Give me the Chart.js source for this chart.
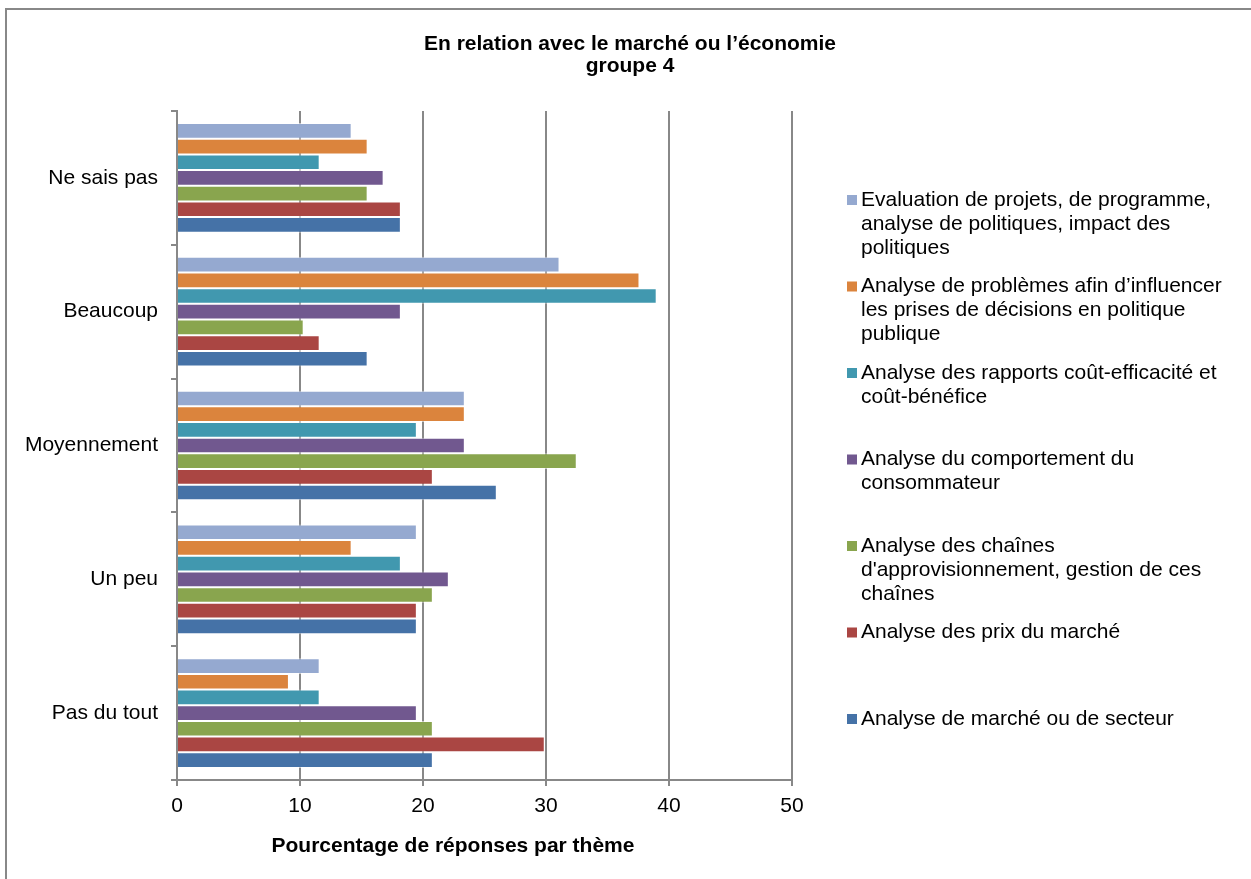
<!DOCTYPE html>
<html lang="fr">
<head>
<meta charset="utf-8">
<title>En relation avec le marché ou l’économie - groupe 4</title>
<script src="https://cdn.jsdelivr.net/npm/chart.js@4.4.1/dist/chart.umd.min.js"></script>
<style>
  html, body { margin: 0; padding: 0; background: #fff; overflow: hidden; }
  canvas { display: block; }
</style>
</head>
<body>
<canvas id="graphique" width="1251" height="879"></canvas>
<script>
// ================================
// DONNÉES
// ================================
const categories = ["Ne sais pas", "Beaucoup", "Moyennement", "Un peu", "Pas du tout"];

const evaluationProjets   = [14.2, 31.1, 23.4, 19.5, 11.6];
const analyseProblemes    = [15.5, 37.6, 23.4, 14.2, 9.1];
const rapportsCout        = [11.6, 39.0, 19.5, 18.2, 11.6];
const comportementConso   = [16.8, 18.2, 23.4, 22.1, 19.5];
const chainesAppro        = [15.5, 10.3, 32.5, 20.8, 20.8];
const prixMarche          = [18.2, 11.6, 20.8, 19.5, 29.9];
const marcheSecteur       = [18.2, 15.5, 26.0, 19.5, 20.8];

const nomsSeries = [
  ["Evaluation de projets, de programme,", "analyse de politiques, impact des", "politiques"],
  ["Analyse de problèmes afin d’influencer", "les prises de décisions en politique", "publique"],
  ["Analyse des rapports coût-efficacité et", "coût-bénéfice"],
  ["Analyse du comportement du", "consommateur"],
  ["Analyse des chaînes", "d'approvisionnement, gestion de ces", "chaînes"],
  ["Analyse des prix du marché"],
  ["Analyse de marché ou de secteur"],
];

const couleurs = ["#95A9D0", "#DB843D", "#4198AF", "#71588F", "#89A54E", "#AA4643", "#4572A7"];

const titre = ["En relation avec le marché ou l’économie", "groupe 4"];
const titreAxeX = "Pourcentage de réponses par thème";

const POLICE = "'Liberation Sans', Arial, sans-serif";
const GRIS = "#888888";

// ================================
// CADRE + TITRE + LÉGENDE + TITRE AXE X
// ================================
const decorPlugin = {
  id: "decor",
  beforeDraw(chart) {
    const ctx = chart.ctx;
    ctx.save();
    ctx.fillStyle = "#fff";
    ctx.fillRect(0, 0, chart.width, chart.height);
    ctx.restore();
  },
  afterDraw(chart) {
    const ctx = chart.ctx;
    ctx.save();

    // cadre extérieur (gauche + haut)
    ctx.strokeStyle = GRIS;
    ctx.lineWidth = 2;
    ctx.beginPath();
    ctx.moveTo(6, chart.height);
    ctx.lineTo(6, 9);
    ctx.lineTo(chart.width, 9);
    ctx.stroke();

    // titre principal
    ctx.fillStyle = "#000";
    ctx.font = "bold 21px " + POLICE;
    ctx.textAlign = "center";
    ctx.textBaseline = "middle";
    titre.forEach((ligne, j) => ctx.fillText(ligne, 630, 44 + j * 22));

    // titre de l'axe X
    ctx.fillText(titreAxeX, 453, 846);

    // légende
    ctx.font = "21px " + POLICE;
    ctx.textAlign = "left";
    chart.data.datasets.forEach((ds, i) => {
      const y0 = 200 + i * 86.5;
      ctx.fillStyle = ds.backgroundColor;
      ctx.fillRect(847, y0 - 5, 10, 10);
      ctx.fillStyle = "#000";
      nomsSeries[i].forEach((ligne, j) => {
        ctx.fillText(ligne, 861, y0 + j * 24);
      });
    });
    ctx.restore();
  },
};

// ================================
// GRAPHIQUE
// ================================
const series = [evaluationProjets, analyseProblemes, rapportsCout, comportementConso,
                chainesAppro, prixMarche, marcheSecteur];

new Chart(document.getElementById("graphique"), {
  type: "bar",
  data: {
    labels: categories,
    datasets: series.map((valeurs, i) => ({
      label: nomsSeries[i].join(" "),
      data: valeurs,
      backgroundColor: couleurs[i],
      borderColor: "rgba(255,255,255,0.55)",
      borderWidth: 1,
      categoryPercentage: 0.82,
      barPercentage: 1.0,
    })),
  },
  options: {
    indexAxis: "y",
    responsive: false,
    animation: false,
    devicePixelRatio: 1,
    layout: { padding: { left: 0, right: 459, top: 111, bottom: 0 } },
    plugins: {
      legend: { display: false },
      tooltip: { enabled: false },
      title: { display: false },
    },
    scales: {
      x: {
        min: 0,
        max: 50,
        ticks: { stepSize: 10, color: "#000", font: { family: POLICE, size: 21 }, padding: 8 },
        grid: { color: GRIS, lineWidth: 2, tickLength: 6, drawOnChartArea: true },
        border: { display: true, color: GRIS, width: 2 },
        afterFit: (s) => { s.height = 99; },
      },
      y: {
        ticks: { color: "#000", font: { family: POLICE, size: 21 }, padding: 13 },
        grid: { color: GRIS, lineWidth: 2, tickLength: 6, drawOnChartArea: false },
        border: { display: true, color: GRIS, width: 2 },
        afterFit: (s) => { s.width = 177; },
      },
    },
  },
  plugins: [decorPlugin],
});
</script>
</body>
</html>
